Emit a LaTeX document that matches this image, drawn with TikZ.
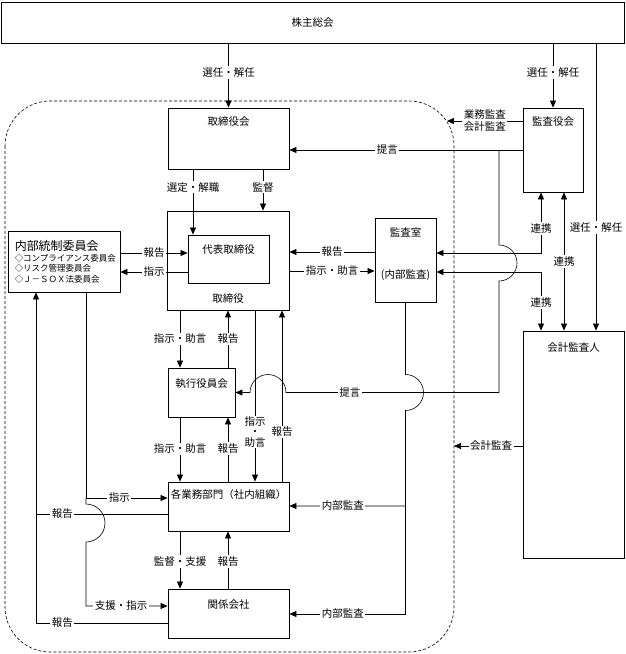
\documentclass[tikz,border=0pt]{standalone}
\usepackage{fontspec}
\setmainfont{Noto Sans CJK JP}
\usetikzlibrary{positioning, arrows.meta}

\begin{document}
\begin{tikzpicture}[
        x=1pt, y=-1pt,
        box_node/.style={draw, rectangle, line width=0.9pt, inner sep=0pt},
        title_node/.style={inner sep=0pt, font=\fontsize{10.5}{12}\selectfont},
        lbl/.style={fill=white, inner sep=1.5pt, font=\fontsize{10.5}{12}\selectfont},
        conn/.style={line width=0.6pt},
        arrow/.style={conn, -{Triangle[length=7pt, width=6pt]}},
        bi_arrow/.style={conn, {Triangle[length=7pt, width=6pt]}-{Triangle[length=7pt, width=6pt]}}
    ]
        \useasboundingbox (0,0) rectangle (625,654);

        % Group frame
        \draw [conn, dash pattern=on 3pt off 2pt, rounded corners=45pt] (5,101) rectangle (454,652);
        \coordinate (f_top) at (447,121);
        \coordinate (f_mid) at (454,446);

        % Nodes
        \node (gm) [box_node, minimum width=623, minimum height=41, font=\fontsize{10.5}{12}\selectfont] at (312.5,22.5) {株主総会};
        \node (bod) [box_node, minimum width=121, minimum height=61] at (228.5,138.5) {};
        \node [title_node, below=9pt of bod.north] {取締役会};
        \node (kansa) [box_node, minimum width=60, minimum height=84] at (553,150) {};
        \node [title_node, below=9pt of kansa.north] {監査役会};
        \node (director) [box_node, minimum width=122, minimum height=99] at (228,260.5) {};
        \node [title_node, above=7pt of director.south] {取締役};
        \node (rep) [box_node, minimum width=81, minimum height=48] at (228.5,259) {};
        \node [title_node, below=10pt of rep.north] {代表取締役};
        \node (audit) [box_node, minimum width=61, minimum height=84] at (405.5,260) {};
        \node [title_node, below=10pt of audit.north] {監査室};
        \node [title_node, above=22pt of audit.south] {(内部監査)};
        \node (icc) [box_node, minimum width=112, minimum height=61] at (64,261.5) {};
        \node [inner sep=0pt, align=left, font=\fontsize{8.5}{10.5}\selectfont, below right=10pt and 7pt of icc.north west]
            {{\fontsize{12}{12}\selectfont 内部統制委員会}\\◇コンプライアンス委員会\\◇リスク管理委員会\\◇Ｊ－ＳＯＸ法委員会};
        \node (exec) [box_node, minimum width=67, minimum height=49] at (201.5,392.5) {};
        \node [title_node, below=11pt of exec.north] {執行役員会};
        \node (dept) [box_node, minimum width=121, minimum height=49] at (228.5,506.5) {};
        \node [title_node, below=8pt of dept.north] {各業務部門（社内組織）};
        \node (affil) [box_node, minimum width=121, minimum height=49] at (228.5,613.5) {};
        \node [title_node, below=11pt of affil.north] {関係会社};
        \node (kaikei) [box_node, minimum width=101, minimum height=227] at (573.5,444.5) {};
        \node [title_node, below=12pt of kaikei.north] {会計監査人};
        \coordinate (k_gm) at ([xshift=22.5pt]kaikei.north);

        % Arrows from the top
        \draw [arrow] (gm.south -| bod.north) -- node[lbl, pos=0.45] {選任・解任} (bod.north);
        \draw [arrow] (gm.south -| kansa.north) -- node[lbl, pos=0.45] {選任・解任} (kansa.north);
        \draw [arrow] (gm.south -| k_gm) -- node[lbl, pos=0.64] {選任・解任} (k_gm);

        % Audit board
        \draw [arrow] ([yshift=29pt]kansa.west) -- node[lbl, align=center] {業務監査\\会計監査} (f_top);
        \draw [arrow] (kansa.west) -- node[lbl, pos=0.58] {提言} (kansa.west -| bod.east);
        \draw [arrow] (kansa.west -| 499,0) -- (499,245) arc[start angle=90, end angle=-90, radius=18pt]
            -- (499,392.5) -- node[lbl, pos=0.7] {提言} (286,392.5) arc[start angle=0, end angle=180, radius=18pt] -- (exec.east);
        \draw [bi_arrow] (audit.east |- 0,253) -| node[lbl, pos=0.7] {連携} (kansa.south -| 541,0);
        \draw [bi_arrow] (audit.east |- 0,272) -| node[lbl, pos=0.76] {連携} (kaikei.north -| 541,0);
        \draw [bi_arrow] (kansa.south -| 564,0) -- node[lbl] {連携} (kaikei.north -| 564,0);
        \draw [arrow] (kaikei.west |- 0,446) -- node[lbl, pos=0.46] {会計監査} (f_mid);

        % Board and directors
        \draw [arrow] (bod.south -| 193,0) -- node[lbl, pos=0.27] {選定・解職} (rep.north -| 193,0);
        \draw [arrow] (bod.south -| 263,0) -- node[lbl, pos=0.43] {監督} (director.north -| 263,0);
        \draw [arrow] (audit.west |- 0,252) -- node[lbl] {報告} (director.east |- 0,252);
        \draw [arrow] (director.east |- 0,271) -- node[lbl] {指示・助言} (audit.west |- 0,271);
        \draw [arrow] (icc.east |- 0,253) -- node[lbl] {報告} (rep.west |- 0,253);
        \draw [arrow] (rep.west |- 0,272) -- node[lbl] {指示} (icc.east |- 0,272);

        % Down the middle
        \draw [arrow] (director.south -| 180,0) -- node[lbl] {指示・助言} (exec.north -| 180,0);
        \draw [arrow] (exec.north -| 228,0) -- node[lbl] {報告} (director.south -| 228,0);
        \draw [arrow] (director.south -| 255,0) -- node[lbl, pos=0.71, align=center, inner sep=0.5pt] {指示\\[-1.5pt]・\\[-1.5pt]助言} (dept.north -| 255,0);
        \draw [arrow] (dept.north -| 282,0) -- node[lbl, pos=0.29] {報告} (director.south -| 282,0);
        \draw [arrow] (exec.south -| 180,0) -- node[lbl, pos=0.49] {指示・助言} (dept.north -| 180,0);
        \draw [arrow] (dept.north -| 228,0) -- node[lbl, pos=0.51] {報告} (exec.south -| 228,0);
        \draw [arrow] (dept.south -| 180,0) -- node[lbl, pos=0.53] {監督・支援} (affil.north -| 180,0);
        \draw [arrow] (affil.north -| 228,0) -- node[lbl, pos=0.47] {報告} (dept.south -| 228,0);

        % Internal audit
        \draw [arrow] (audit.south) -- (405.5,374.5) arc[start angle=90, end angle=-90, radius=18pt]
            -- (405.5,506) -- node[lbl, pos=0.54] {内部監査} (dept.east |- 0,506);
        \draw [arrow] (405.5,506) -- (405.5,614) -- node[lbl, pos=0.54] {内部監査} (affil.east |- 0,614);

        % Internal control committee
        \draw [arrow] (icc.south -| 86,0) -- (86,498) -- node[lbl, pos=0.41] {指示} (dept.west |- 0,498);
        \draw [arrow] (86,498) -- (86,504) arc[start angle=90, end angle=-90, radius=19pt]
            -- (86,606) -- node[lbl, pos=0.43] {支援・指示} (affil.west |- 0,606);
        \draw [conn] (dept.west |- 0,514) -- node[lbl, pos=0.8] {報告} (36,514);
        \draw [arrow] (affil.west |- 0,623) -- node[lbl, pos=0.8] {報告} (36,623) -- (icc.south -| 36,0);
    \end{tikzpicture}
\end{document}
